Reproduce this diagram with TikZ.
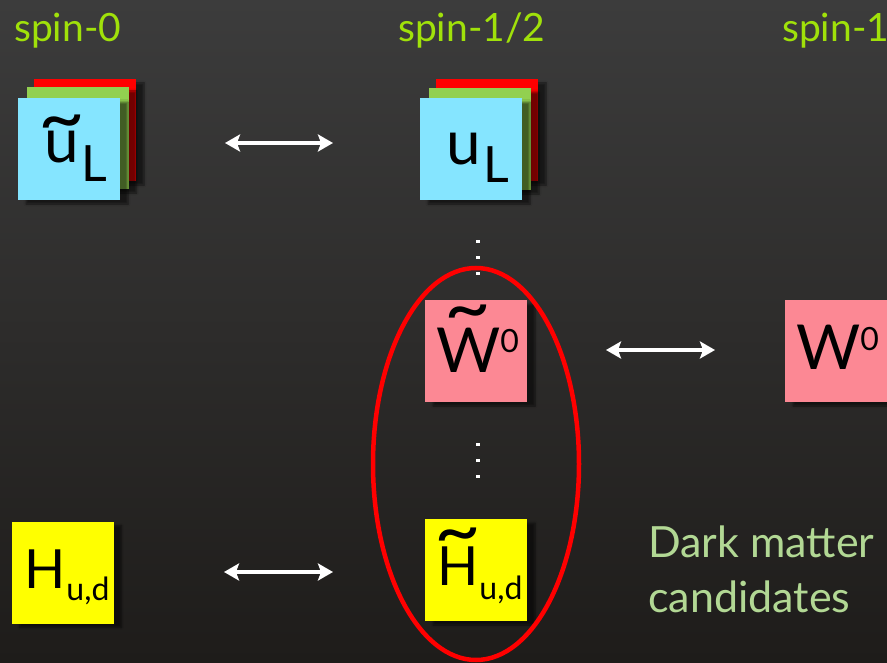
\documentclass[tikz,border=0pt]{standalone}
\usepackage{fontspec}
\setmainfont{Lato}
\usepackage{tikz}
\usetikzlibrary{arrows.meta, shadows.blur}
\definecolor{boardtop}{RGB}{60,60,60}
\definecolor{boardbot}{RGB}{30,28,26}
\definecolor{spingreen}{RGB}{160,225,10}
\definecolor{dmgreen}{RGB}{178,216,148}
\definecolor{sqcyan}{RGB}{133,229,255}
\definecolor{sqgreen}{RGB}{146,208,80}
\definecolor{sqred}{RGB}{255,0,0}
\definecolor{sqpink}{RGB}{252,136,148}
\definecolor{sqyellow}{RGB}{255,255,0}
\newcommand\bigsz{\fontsize{62}{62}\selectfont}
\newcommand\hsz{\fontsize{54}{54}\selectfont}
\newcommand\midsz{\fontsize{50}{50}\selectfont}
\newcommand\smsz{\fontsize{32}{32}\selectfont}
\newcommand\tldsz{\fontsize{62}{62}\selectfont}
\newcommand\tld[2]{\ooalign{#2\cr\hidewidth\raisebox{#1}{\scalebox{1.3}[1.2]{\tldsz\char"7E}}\hidewidth\cr}}
\tikzset{
  sq/.style={rectangle, minimum size=102pt, inner sep=0pt,
    blur shadow={shadow xshift=8pt, shadow yshift=-4pt,
      shadow opacity=55, shadow blur steps=6}},
  sqlabel/.style={anchor=base west, inner sep=0pt, font=\bigsz, text=black},
  spinlabel/.style={anchor=base west, inner sep=0pt,
    font=\fontsize{39}{39}\selectfont, text=spingreen},
  dmlabel/.style={anchor=base west, inner sep=0pt,
    font=\fontsize{43}{43}\selectfont, text=dmgreen},
  dblarrow/.style={{Stealth[length=15pt,width=17pt,inset=3pt]}-{Stealth[length=15pt,width=17pt,inset=3pt]},
    line width=3.5pt, white}
}

\begin{document}
\begin{tikzpicture}[x=1pt, y=-1pt]
  \useasboundingbox (0,0) rectangle (887,663);
  \shade[top color=boardtop, bottom color=boardbot] (0,0) rectangle (887,663);
  % ── column headers ──────────────────────────────────────────────────────
  \node[spinlabel] (spin0) at (14,42) {spin-0};
  \node[spinlabel] (spinhalf) at (398,42) {spin-1/2};
  \node[spinlabel] (spin1) at (782,42) {spin-1};
  % ── squark / quark ──────────────────────────────────────────────────────
  \node[sq, fill=sqred] (sqR) at (85,130) {};
  \node[sq, fill=sqgreen] (sqG) at (77.5,138) {};
  \node[sq, fill=sqcyan] (sq) at (69,149) {};
  \node[sqlabel] (sqtxt) at (44,163) {\tld{19pt}{u}\kern3pt\raisebox{-19pt}{\midsz L}};
  \node[sq, fill=sqred] (qR) at (487,130) {};
  \node[sq, fill=sqgreen] (qG) at (480,139) {};
  \node[sq, fill=sqcyan] (q) at (471,149) {};
  \node[sqlabel] (qtxt) at (446,165) {u\kern3pt\raisebox{-18pt}{\midsz L}};
  % ── wino / W ────────────────────────────────────────────────────────────
  \node[sq, fill=sqpink] (wino) at (476,351) {};
  \node[sqlabel] (winotxt) at (436,372) {\tld{39pt}{W}\raisebox{20pt}{\smsz 0}};
  \node[sq, fill=sqpink] (w) at (836,351) {};
  \node[sqlabel] (wtxt) at (796,370) {W\raisebox{20pt}{\smsz 0}};
  % ── Higgs / higgsino ────────────────────────────────────────────────────
  \node[sq, fill=sqyellow] (h) at (62.5,572.5) {};
  \node[sqlabel, font=\hsz] (htxt) at (24,588) {H\kern1pt\raisebox{-12pt}{\smsz u,d}};
  \node[sq, fill=sqyellow] (hino) at (476,570) {};
  \node[sqlabel, font=\hsz] (hinotxt) at (437,585) {\tld{29pt}{H}\kern1pt\raisebox{-14pt}{\smsz u,d}};
  % dark matter ring
  \draw[sqred, line width=4.5pt] (476,464) ellipse [x radius=103, y radius=196];
  \node[dmlabel] (dmA) at (648,557) {Dark matter};
  \node[dmlabel] (dmB) at (648,612) {candidates};
  % ── partner arrows ──────────────────────────────────────────────────────
  \coordinate (a1) at (225,143); \coordinate (b1) at (333,143);
  \coordinate (a2) at (606,350); \coordinate (b2) at (715,350);
  \coordinate (a3) at (224,572); \coordinate (b3) at (333,572);
  \draw[dblarrow] (a1) -- (b1);
  \draw[dblarrow] (a2) -- (b2);
  \draw[dblarrow] (a3) -- (b3);
  % vertical dots
  \foreach \y in {242,258,274,444,460,476}
    \fill[white] (476,{\y-1.5}) rectangle (480,{\y+1.5});
\end{tikzpicture}
\end{document}
